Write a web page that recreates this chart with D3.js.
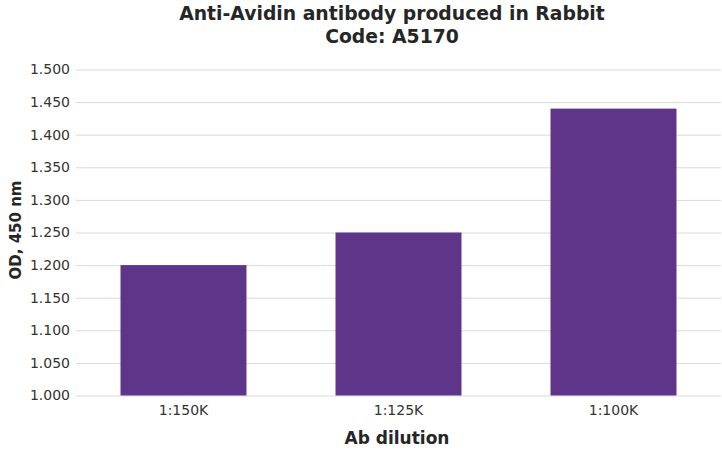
<!DOCTYPE html>
<html>
<head>
<meta charset="utf-8">
<script src="https://cdn.jsdelivr.net/npm/d3@7"></script>
<style>
  body { margin: 0; background: #fff; }
  text { font-family: "DejaVu Sans", Verdana, sans-serif; }
</style>
</head>
<body>
<svg id="chart"></svg>
<script>
var width = 722
var height = 450

var dilutions = ["1:150K", "1:125K", "1:100K"]
var odValues = [1.200, 1.250, 1.440]
var yTicks = [1.000, 1.050, 1.100, 1.150, 1.200, 1.250, 1.300, 1.350, 1.400, 1.450, 1.500]
var titleLines = ["Anti-Avidin antibody produced in Rabbit", "Code: A5170"]

var plotLeft = 76, plotRight = 721, plotTop = 69.5, plotBottom = 395.5

var svg = d3.select("#chart")
    .attr("width", width)
    .attr("height", height)

var x = d3.scaleBand()
    .domain(dilutions)
    .range([plotLeft, plotRight])
    .paddingInner(0.414)
    .paddingOuter(0.207)

var y = d3.scaleLinear()
    .domain([1.0, 1.5])
    .range([plotBottom, plotTop])

// gridlines + y labels
var yAxis = svg.append("g")
    .attr("transform", "translate(" + plotLeft + ",0)")
    .call(d3.axisLeft(y).tickValues(yTicks).tickFormat(d3.format(".3f"))
        .tickSize(-(plotRight - plotLeft)).tickPadding(6))
yAxis.select(".domain").remove()
yAxis.selectAll(".tick line").attr("stroke", "#d9d9d9").attr("stroke-width", 1)
yAxis.selectAll(".tick text")
    .attr("font-size", "14px")
    .attr("fill", "#333")
    .style("font-family", "DejaVu Sans, Verdana, sans-serif")

// bars
svg.selectAll("rect.bar")
    .data(odValues)
    .enter().append("rect")
    .attr("class", "bar")
    .attr("x", (d, i) => x(dilutions[i]))
    .attr("y", d => y(d))
    .attr("width", x.bandwidth())
    .attr("height", d => y(1.0) - y(d))
    .attr("fill", "#5e3589")

// x labels
var xAxis = svg.append("g")
    .attr("transform", "translate(0," + plotBottom + ")")
    .call(d3.axisBottom(x).tickSize(0).tickPadding(10))
xAxis.select(".domain").remove()
xAxis.selectAll(".tick text")
    .attr("font-size", "14px")
    .attr("fill", "#333")
    .style("font-family", "DejaVu Sans, Verdana, sans-serif")

// title
titleLines.forEach(function(t, i) {
    svg.append("text")
        .attr("x", 392)
        .attr("y", 20 + i * 23)
        .attr("text-anchor", "middle")
        .attr("font-size", "18.8px")
        .attr("font-weight", "bold")
        .attr("fill", "#262626")
        .text(t)
})

// axis titles
svg.append("text")
    .attr("x", 397)
    .attr("y", 444)
    .attr("text-anchor", "middle")
    .attr("font-size", "17px")
    .attr("font-weight", "bold")
    .attr("fill", "#262626")
    .text("Ab dilution")

svg.append("text")
    .attr("transform", "translate(21,230) rotate(-90)")
    .attr("text-anchor", "middle")
    .attr("font-size", "15px")
    .attr("font-weight", "bold")
    .attr("fill", "#262626")
    .text("OD, 450 nm")
</script>
</body>
</html>
